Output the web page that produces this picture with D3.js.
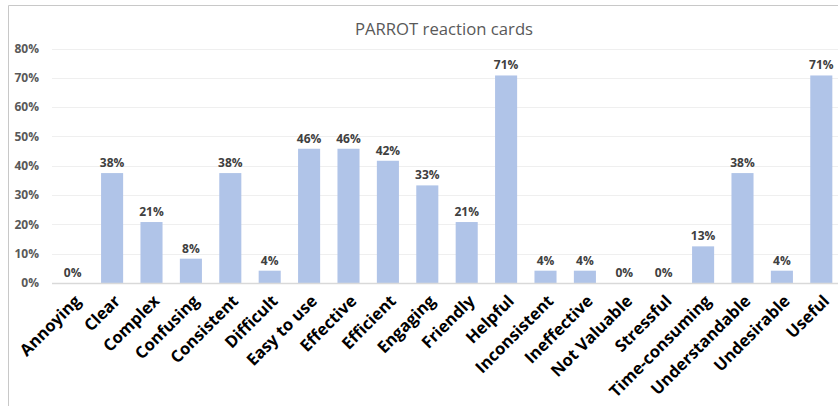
<!DOCTYPE html>
<html><head><meta charset="utf-8">
<script src="https://cdn.jsdelivr.net/npm/d3@7"></script>
<style>
html,body{margin:0;padding:0;background:#fff;}
svg{display:block;font-family:"Open Sans","Liberation Sans",sans-serif;}
</style></head>
<body>
<svg id="chart" width="838" height="406"></svg>
<script>
const categories = ["Annoying","Clear","Complex","Confusing","Consistent","Difficult","Easy to use","Effective","Efficient","Engaging","Friendly","Helpful","Inconsistent","Ineffective","Not Valuable","Stressful","Time-consuming","Understandable","Undesirable","Useful"];
const values = [0,0.375,0.208,0.083,0.375,0.042,0.458,0.458,0.417,0.333,0.208,0.708,0.042,0.042,0,0,0.125,0.375,0.042,0.708];
const yTicks = [0,0.1,0.2,0.3,0.4,0.5,0.6,0.7,0.8];
const title = "PARROT reaction cards";

const svg = d3.select("#chart");
// outer frame (top and left edges visible; right side cropped)
svg.append("path").attr("d","M8.5,406 V5.5 H838").attr("fill","none").attr("stroke","#C8C8C8").attr("stroke-width",1);

const x = d3.scaleBand().domain(categories).range([53, 841]).paddingInner(0.44).paddingOuter(0.22);
const y = d3.scaleLinear().domain([0,0.8]).range([283,48.5]);

svg.append("text").attr("x",444).attr("y",35).attr("text-anchor","middle")
  .attr("font-size",16.7).attr("fill","#595959").text(title);

// gridlines
svg.append("g").selectAll("line").data(yTicks.slice(1)).join("line")
  .attr("x1",52).attr("x2",838).attr("y1",d=>Math.round(y(d))+0.5).attr("y2",d=>Math.round(y(d))+0.5)
  .attr("stroke","#EFEFEF").attr("stroke-width",1);

// y axis labels
const yAxis = d3.axisLeft(y).tickValues(yTicks).tickFormat(d3.format(".0%")).tickSize(0).tickPadding(0);
const ya = svg.append("g").attr("transform","translate(39,0)").call(yAxis);
ya.select(".domain").remove();
ya.selectAll("text").attr("font-size",12).attr("font-weight","bold").attr("fill","#595959")
  .attr("font-family","'Open Sans',sans-serif");

// bars
svg.append("g").selectAll("rect").data(values).join("rect")
  .attr("x",(d,i)=>x(categories[i])).attr("width",x.bandwidth())
  .attr("y",d=>y(d)).attr("height",d=>y(0)-y(d)).attr("fill","#B0C4E8");

// baseline
svg.append("line").attr("x1",52).attr("x2",838).attr("y1",283.5).attr("y2",283.5)
  .attr("stroke","#D9D9D9").attr("stroke-width",1.5);

// data labels
svg.append("g").selectAll("text").data(values).join("text")
  .attr("x",(d,i)=>x(categories[i])+x.bandwidth()/2).attr("y",d=>y(d)-6)
  .attr("text-anchor","middle").attr("font-size",12).attr("font-weight","bold").attr("fill","#404040")
  .text(d=>d3.format(".0%")(d));

// x axis labels
const xAxis = d3.axisBottom(x).tickSize(0).tickPadding(0);
const xa = svg.append("g").call(xAxis);
xa.select(".domain").remove();
xa.selectAll(".tick").attr("transform",d=>`translate(${x(d)+x.bandwidth()/2+5},298)`);
xa.selectAll("text").attr("transform","rotate(-45)").attr("text-anchor","end")
  .attr("x",0).attr("y",0).attr("dy","0.35em")
  .attr("font-size",16.5).attr("font-weight","bold").attr("fill","#000")
  .attr("font-family","'Open Sans',sans-serif");
</script>
</body></html>
